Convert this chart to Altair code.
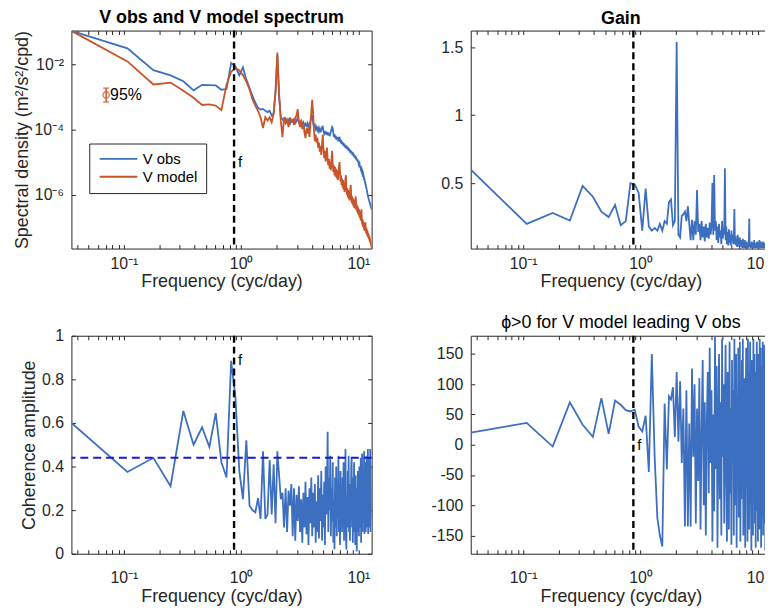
import altair as alt
import pandas as pd

# ---------------- data ----------------
N = 182
freq = [(k + 0.5) / 14 for k in range(N)]  # frequency grid, cyc/day

# log10 of spectral density, V obs
obs_log = [
    -0.96, -1.50, -2.17, -2.33, -2.51, -2.79, -2.62, -2.63, -2.64, -2.77, -2.75,
    -1.95, -2.05, -2.33, -2.08, -2.46, -2.71, -2.97, -3.17, -3.33, -3.38,
    -3.36, -3.42, -3.46, -3.42, -3.56, -3.50, -2.85, -1.70, -3.00, -3.62,
    -3.68, -3.75, -3.66, -3.78, -3.70, -3.82, -3.72, -3.76, -3.68, -3.80,
    -3.74, -3.62, -3.78, -3.84, -3.74, -3.86, -3.78, -3.90, -3.82, -3.88,
    -3.80, -3.92, -3.84, -3.74, -3.62, -3.55, -3.78, -3.92, -3.86, -3.98,
    -3.92, -4.02, -3.95, -4.05, -3.97, -4.08, -4.00, -3.94, -3.88, -4.06,
    -4.12, -4.04, -4.14, -4.06, -4.16, -4.08, -4.18, -4.10, -4.20, -4.12,
    -4.06, -3.98, -3.92, -3.96, -4.10, -4.22, -4.14, -4.26, -4.18, -4.30,
    -4.22, -4.32, -4.24, -4.36, -4.28, -4.22, -4.30, -4.40, -4.32, -4.44,
    -4.36, -4.46, -4.40, -4.50, -4.42, -4.52, -4.46, -4.56, -4.48, -4.58,
    -4.50, -4.60, -4.54, -4.64, -4.56, -4.66, -4.60, -4.70, -4.62, -4.72,
    -4.66, -4.74, -4.68, -4.78, -4.70, -4.80, -4.74, -4.84, -4.78, -4.86,
    -4.80, -4.90, -4.84, -4.94, -4.88, -4.96, -4.92, -5.00, -4.96, -5.04,
    -5.02, -5.10, -5.08, -5.16, -5.12, -5.20, -5.18, -5.26, -5.24, -5.32,
    -5.30, -5.38, -5.36, -5.44, -5.44, -5.52, -5.52, -5.60, -5.60, -5.68,
    -5.68, -5.76, -5.78, -5.84, -5.88, -5.94, -5.98, -6.04, -6.06, -6.12,
    -6.14, -6.18, -6.20, -6.24, -6.26, -6.30, -6.32, -6.36, -6.38, -6.42, -6.46,
]

# log10 of spectral density, V model
model_log = [
    -0.96, -1.90, -2.61, -2.55, -2.80, -3.02, -3.24, -3.22, -3.26, -3.40, -2.62,
    -2.22, -2.10, -2.18, -2.32, -2.52, -2.76, -3.07, -3.27, -3.42, -3.62,
    -3.95, -3.62, -3.72, -3.62, -3.77, -3.50, -2.80, -1.63, -2.90, -3.73,
    -4.23, -3.62, -3.80, -3.70, -3.92, -3.62, -3.75, -3.70, -3.85, -3.65,
    -3.55, -3.37, -3.75, -3.92, -3.70, -3.98, -3.82, -4.08, -4.26, -3.96,
    -4.12, -3.92, -4.22, -3.85, -3.45, -3.08, -3.50, -4.05, -4.35, -4.15,
    -4.40, -4.25, -4.55, -4.40, -4.68, -4.50, -4.78, -4.45, -4.15, -4.60,
    -4.88, -4.65, -4.98, -4.75, -4.55, -4.95, -5.10, -4.90, -5.20, -4.98,
    -5.25, -4.95, -4.65, -5.05, -5.30, -5.10, -5.40, -5.15, -5.45, -5.20,
    -5.50, -5.25, -5.55, -5.35, -5.15, -5.00, -5.25, -5.60, -5.40, -5.70,
    -5.50, -5.78, -5.55, -5.85, -5.62, -5.92, -5.70, -5.50, -5.40, -5.80,
    -6.00, -5.80, -6.08, -5.85, -6.12, -5.92, -6.18, -6.00, -5.80, -5.70,
    -6.05, -6.25, -6.05, -6.30, -6.10, -6.35, -6.15, -6.40, -6.20, -6.42,
    -6.25, -6.05, -6.20, -6.48, -6.30, -6.52, -6.35, -6.58, -6.40, -6.62,
    -6.45, -6.68, -6.50, -6.72, -6.55, -6.80, -6.62, -6.45, -6.70, -6.92,
    -6.75, -6.98, -6.80, -7.02, -6.85, -7.08, -6.90, -7.12, -6.98, -6.85,
    -7.05, -7.18, -7.02, -7.22, -7.08, -7.26, -7.12, -7.30, -7.18, -7.34,
    -7.24, -7.38, -7.28, -7.44, -7.34, -7.48, -7.42, -7.54, -7.50, -7.60, -7.65,
]

gain = [
    0.60, 0.20, 0.28, 0.225, 0.48, 0.40, 0.29, 0.25, 0.34, 0.19, 0.22,
    0.50, 0.49, 0.43, 0.15, 0.46, 0.18, 0.15, 0.17, 0.15, 0.20,
    0.15, 0.22, 0.20, 0.36, 0.38, 0.19, 0.22, 1.54, 0.12, 0.10,
    0.26, 0.27, 0.29, 0.22, 0.33, 0.20, 0.08, 0.23, 0.08, 0.22,
    0.12, 0.45, 0.14, 0.20, 0.08, 0.22, 0.10, 0.18, 0.07, 0.20,
    0.10, 0.17, 0.09, 0.21, 0.12, 0.18, 0.50, 0.12, 0.56, 0.15,
    0.22, 0.08, 0.18, 0.06, 0.20, 0.10, 0.15, 0.05, 0.22, 0.09,
    0.17, 0.12, 0.61, 0.08, 0.18, 0.05, 0.14, 0.04, 0.16, 0.06,
    0.12, 0.04, 0.15, 0.07, 0.12, 0.05, 0.10, 0.31, 0.05, 0.11,
    0.04, 0.09, 0.03, 0.12, 0.05, 0.08, 0.03, 0.10, 0.04, 0.08,
    0.03, 0.07, 0.02, 0.09, 0.04, 0.06, 0.02, 0.08, 0.03, 0.06,
    0.02, 0.07, 0.03, 0.05, 0.02, 0.06, 0.04, 0.24, 0.03, 0.06,
    0.02, 0.05, 0.03, 0.07, 0.02, 0.05, 0.03, 0.06, 0.02, 0.08,
    0.03, 0.05, 0.02, 0.06, 0.03, 0.04, 0.02, 0.07, 0.03, 0.05,
    0.02, 0.06, 0.03, 0.08, 0.02, 0.05, 0.03, 0.07, 0.02, 0.04,
    0.06, 0.02, 0.05, 0.03, 0.07, 0.02, 0.04, 0.06, 0.02, 0.05,
    0.03, 0.06, 0.02, 0.04, 0.07, 0.03, 0.05, 0.02, 0.06, 0.03,
    0.05, 0.02, 0.07, 0.03, 0.05, 0.04, 0.08, 0.03, 0.06, 0.05, 0.07,
]

coherence = [
    0.60, 0.375, 0.44, 0.31, 0.655, 0.50, 0.58, 0.49, 0.645, 0.42, 0.35,
    0.885, 0.72, 0.38, 0.25, 0.52, 0.22, 0.20, 0.19, 0.255, 0.16,
    0.47, 0.16, 0.18, 0.43, 0.18, 0.41, 0.14, 0.47, 0.36, 0.25,
    0.28, 0.12, 0.30, 0.10, 0.29, 0.22, 0.32, 0.08, 0.30, 0.06,
    0.27, 0.15, 0.31, 0.10, 0.25, 0.05, 0.28, 0.12, 0.33, 0.09,
    0.26, 0.04, 0.30, 0.14, 0.35, 0.08, 0.28, 0.12, 0.32, 0.05,
    0.24, 0.10, 0.36, 0.07, 0.30, 0.15, 0.38, 0.06, 0.27, 0.12,
    0.33, 0.04, 0.40, 0.18, 0.30, 0.56, 0.10, 0.35, 0.20, 0.45,
    0.08, 0.30, 0.15, 0.42, 0.05, 0.25, 0.02, 0.35, 0.12, 0.40,
    0.08, 0.32, 0.16, 0.45, 0.10, 0.28, 0.04, 0.38, 0.14, 0.30,
    0.10, 0.35, 0.18, 0.42, 0.06, 0.30, 0.15, 0.48, 0.08, 0.02,
    0.25, 0.12, 0.38, 0.20, 0.45, 0.10, 0.32, 0.06, 0.28, 0.16,
    0.40, 0.44, 0.12, 0.30, 0.05, 0.35, 0.18, 0.42, 0.10, 0.26,
    0.04, 0.36, 0.15, 0.30, 0.01, 0.22, 0.10, 0.38, 0.16, 0.33,
    0.08, 0.40, 0.20, 0.35, 0.12, 0.44, 0.05, 0.30, 0.18, 0.46,
    0.10, 0.28, 0.14, 0.38, 0.20, 0.47, 0.09, 0.32, 0.15, 0.42,
    0.10, 0.30, 0.22, 0.45, 0.12, 0.35, 0.18, 0.48, 0.09, 0.38,
    0.20, 0.44, 0.12, 0.34, 0.22, 0.48, 0.10, 0.40, 0.16, 0.30, 0.22,
]

phase = [
    20, 36, -3, 70, 33, 13, 77, 18, 73, 66, 57,
    55, 58, 30, 22, 48, -45, 150, -20, -121, -150,
    -168, 68, -41, 80, 75, 95, 13, 120, 5, 105,
    -30, 60, -135, 90, -135, 35, -135, 126, -20, 100,
    -130, 60, -60, 110, -140, 20, 140, -100, 70, -150,
    40, 120, -80, 160, -30, 90, -160, 50, -110, 180,
    -40, 130, -170, 20, 150, -90, 70, -150, 175, -20,
    100, -130, 40, 165, -60, -160, 120, 10, -140, 170,
    -80, 60, -165, 140, -20, 90, -150, 175, -100, 30,
    150, -170, 80, -50, 160, -120, 20, 170, -160, 50,
    -90, 140, -30, 175, -150, 60, -120, 110, -170, 20,
    160, -70, 90, -160, 175, -40, 120, -140, 30, 170,
    -100, 60, -175, 140, -20, 100, -150, 175, -60, 40,
    150, -130, 80, -170, 120, -30, 170, -110, 60, -160,
    150, -50, 110, -140, 175, -80, 40, 160, -170, 70,
    -120, 130, -20, 170, -150, 90, -60, 165, -130, 20,
    150, -175, 100, -40, 170, -110, 60, -160, 140, -10,
    175, -140, 80, -80, 160, -170, 120, -30, 175, -100, 60,
]

F_INERTIAL = 0.87          # inertial frequency line (cyc/day)
COH_SIG = 0.44             # coherence significance level
ci_freq = [0.0706]         # 95% error bar position
ci_mid = [1.17e-3]
ci_lo = [7.1e-4]
ci_hi = [1.9e-3]

x_ticks = [0.04, 0.05, 0.06, 0.07, 0.08, 0.09,
           0.1, 0.2, 0.3, 0.4, 0.5, 0.6, 0.7, 0.8, 0.9,
           1, 2, 3, 4, 5, 6, 7, 8, 9, 10]
spec_ticks = [1e-6, 1e-4, 1e-2]
gain_ticks = [0.5, 1, 1.5]
coh_ticks = [0, 0.2, 0.4, 0.6, 0.8, 1]
phase_ticks = [-150, -100, -50, 0, 50, 100, 150]

# ---------------- styling ----------------
FONT = "Liberation Sans"
BLUE = "#3d6fc0"
ORANGE = "#c8552a"
AX = "#262626"
W, H = 303, 220
LW = 1.8

n = min(len(obs_log), len(model_log), len(gain), len(coherence), len(phase))
fr = freq[:n]

xs = alt.Scale(type="log", domain=[0.0357, 12.96], nice=False)
X_EXPR = ("datum.value == 0.1 ? '10⁻¹' : datum.value == 1 ? '10⁰' : "
          "datum.value == 10 ? '10¹' : ''")


def x_bottom(lp, tp):
    return alt.Axis(orient="bottom", values=x_ticks, labelExpr=X_EXPR,
                    title="Frequency (cyc/day)", offset=-4, tickSize=4,
                    labelPadding=lp, titlePadding=tp, labelOverlap=False,
                    domain=False, grid=False, minExtent=0)


def x_top():
    return alt.Axis(orient="top", values=x_ticks, labels=False, title=None,
                    offset=-4, tickSize=4, domain=False, grid=False,
                    minExtent=0, maxExtent=0)


def y_left(values, expr, title=None):
    return alt.Axis(orient="left", values=values, labelExpr=expr, title=title,
                    offset=-4, tickSize=4, labelPadding=8, titlePadding=3,
                    labelOverlap=False, domain=False, grid=False, minExtent=0)


def y_right(values):
    return alt.Axis(orient="right", values=values, labels=False, title=None,
                    offset=-4, tickSize=4, domain=False, grid=False,
                    minExtent=0, maxExtent=0)


def title(text, bold=True):
    return alt.TitleParams(text=text, font=FONT, fontSize=18,
                           fontWeight="bold" if bold else "normal",
                           color="black", anchor="middle", offset=1)


fline_df = pd.DataFrame({"f": [F_INERTIAL]})


def f_rule():
    return alt.Chart(fline_df).mark_rule(
        color="black", strokeDash=[7, 4], strokeWidth=2.4
    ).encode(x=alt.X("f:Q", scale=xs, axis=None))


def f_text(ys, yval):
    d = pd.DataFrame({"f": [F_INERTIAL], "y": [yval], "t": ["f"]})
    return alt.Chart(d).mark_text(
        align="left", baseline="middle", dx=4, font=FONT, fontSize=15, color="black"
    ).encode(x=alt.X("f:Q", scale=xs, axis=None),
             y=alt.Y("y:Q", scale=ys, axis=None), text="t:N")


# ---------------- panel 1: spectra ----------------
spec_df = pd.DataFrame({
    "freq": fr + fr,
    "value": [10 ** v for v in obs_log[:n]] + [10 ** v for v in model_log[:n]],
    "series": ["V obs"] * n + ["V model"] * n,
})
ys_spec = alt.Scale(type="log", domain=[2.2e-8, 0.112], nice=False)
SPEC_EXPR = ("datum.value < 1e-5 ? '10⁻⁶' : datum.value < 1e-3 ? '10⁻⁴' : '10⁻²'")
legend = alt.Legend(orient="none", legendX=18, legendY=114, title=None,
                    direction="vertical", symbolType="M-1,0H6.6", symbolSize=100,
                    symbolStrokeWidth=2, labelFont=FONT, labelFontSize=15,
                    labelColor="black", labelOffset=31, rowPadding=2, padding=8,
                    strokeColor=AX, fillColor="white", cornerRadius=0)
color = alt.Color("series:N",
                  scale=alt.Scale(domain=["V obs", "V model"], range=[BLUE, ORANGE]),
                  legend=legend)

spec_base = alt.Chart(spec_df)
obs_line = spec_base.transform_filter(alt.datum.series == "V obs").mark_line(
    strokeWidth=LW, clip=True).encode(
    x=alt.X("freq:Q", scale=xs, axis=x_bottom(7, 1)),
    y=alt.Y("value:Q", scale=ys_spec,
            axis=y_left(spec_ticks, SPEC_EXPR, "Spectral density (m²/s²/cpd)")),
    color=color)
model_line = spec_base.transform_filter(alt.datum.series == "V model").mark_line(
    strokeWidth=LW, clip=True).encode(
    x=alt.X("freq:Q", scale=xs, axis=None),
    y=alt.Y("value:Q", scale=ys_spec, axis=None),
    color=color)
spec_frame = spec_base.mark_point(opacity=0).encode(
    x=alt.X("freq:Q", scale=xs, axis=x_top()),
    y=alt.Y("value:Q", scale=ys_spec, axis=y_right(spec_ticks)))

ci_df = pd.DataFrame({"f": ci_freq, "mid": ci_mid, "lo": ci_lo, "hi": ci_hi,
                      "t": ["95%"]})
ci_base = alt.Chart(ci_df)
ci_bar = ci_base.mark_rule(color=ORANGE, strokeWidth=1.5).encode(
    x=alt.X("f:Q", scale=xs, axis=None),
    y=alt.Y("lo:Q", scale=ys_spec, axis=None), y2="hi:Q")
ci_cap_lo = ci_base.mark_tick(color=ORANGE, orient="horizontal", size=6,
                              thickness=1.5).encode(
    x=alt.X("f:Q", scale=xs, axis=None), y=alt.Y("lo:Q", scale=ys_spec, axis=None))
ci_cap_hi = ci_base.mark_tick(color=ORANGE, orient="horizontal", size=6,
                              thickness=1.5).encode(
    x=alt.X("f:Q", scale=xs, axis=None), y=alt.Y("hi:Q", scale=ys_spec, axis=None))
ci_pt = ci_base.mark_point(color=ORANGE, shape="circle", size=40, filled=False,
                           strokeWidth=1.5).encode(
    x=alt.X("f:Q", scale=xs, axis=None), y=alt.Y("mid:Q", scale=ys_spec, axis=None))
ci_txt = ci_base.mark_text(align="left", baseline="middle", dx=4, font=FONT,
                           fontSize=16, color="black").encode(
    x=alt.X("f:Q", scale=xs, axis=None), y=alt.Y("mid:Q", scale=ys_spec, axis=None),
    text="t:N")

p_spec = alt.layer(
    obs_line, model_line, f_rule(), f_text(ys_spec, 1e-5),
    ci_bar, ci_cap_lo, ci_cap_hi, ci_pt, ci_txt, spec_frame
).resolve_axis(x="independent", y="independent").properties(
    width=W, height=H, title=title("V obs and V model spectrum"))

# ---------------- panel 2: gain ----------------
gain_df = pd.DataFrame({"freq": fr, "g": gain[:n]})
ys_gain = alt.Scale(domain=[0.018, 1.624], nice=False, zero=False)
NUM_EXPR = "'' + datum.value"
gain_line = alt.Chart(gain_df).mark_line(strokeWidth=LW, color=BLUE, clip=True).encode(
    x=alt.X("freq:Q", scale=xs, axis=x_bottom(7, 1)),
    y=alt.Y("g:Q", scale=ys_gain, axis=y_left(gain_ticks, NUM_EXPR)))
gain_frame = alt.Chart(gain_df).mark_point(opacity=0).encode(
    x=alt.X("freq:Q", scale=xs, axis=x_top()),
    y=alt.Y("g:Q", scale=ys_gain, axis=y_right(gain_ticks)))
p_gain = alt.layer(gain_line, f_rule(), gain_frame).resolve_axis(
    x="independent", y="independent").properties(width=W, height=H, title=title("Gain"))

# ---------------- panel 3: coherence ----------------
coh_df = pd.DataFrame({"freq": fr, "c": coherence[:n]})
ys_coh = alt.Scale(domain=[0, 1], nice=False)
coh_line = alt.Chart(coh_df).mark_line(strokeWidth=LW, color=BLUE, clip=True).encode(
    x=alt.X("freq:Q", scale=xs, axis=x_bottom(16, 2)),
    y=alt.Y("c:Q", scale=ys_coh,
            axis=y_left(coh_ticks, NUM_EXPR, "Coherence amplitude")))
sig_df = pd.DataFrame({"s": [COH_SIG]})
coh_sig = alt.Chart(sig_df).mark_rule(color="#1a1ad0", strokeDash=[8, 5],
                                      strokeWidth=2).encode(
    y=alt.Y("s:Q", scale=ys_coh, axis=None))
coh_frame = alt.Chart(coh_df).mark_point(opacity=0).encode(
    x=alt.X("freq:Q", scale=xs, axis=x_top()),
    y=alt.Y("c:Q", scale=ys_coh, axis=y_right(coh_ticks)))
p_coh = alt.layer(coh_line, coh_sig, f_rule(), f_text(ys_coh, 0.887),
                  coh_frame).resolve_axis(x="independent", y="independent").properties(
    width=W, height=H)

# ---------------- panel 4: phase ----------------
ph_df = pd.DataFrame({"freq": fr, "p": phase[:n]})
ys_ph = alt.Scale(domain=[-180, 180], nice=False)
ph_line = alt.Chart(ph_df).mark_line(strokeWidth=LW, color=BLUE, clip=True).encode(
    x=alt.X("freq:Q", scale=xs, axis=x_bottom(16, 2)),
    y=alt.Y("p:Q", scale=ys_ph, axis=y_left(phase_ticks, NUM_EXPR)))
ph_frame = alt.Chart(ph_df).mark_point(opacity=0).encode(
    x=alt.X("freq:Q", scale=xs, axis=x_top()),
    y=alt.Y("p:Q", scale=ys_ph, axis=y_right(phase_ticks)))
p_ph = alt.layer(ph_line, f_rule(), f_text(ys_ph, 0), ph_frame).resolve_axis(
    x="independent", y="independent").properties(
    width=W, height=H, title=title("ϕ>0 for V model leading V obs", bold=False))

chart = alt.concat(
    p_spec, p_gain, p_coh, p_ph, columns=2,
    spacing={"row": 88, "column": 100}, bounds="flush"
).properties(
    padding={"left": 4, "top": -2, "right": -10, "bottom": 0},
    background="white",
).configure_view(
    stroke=AX, strokeWidth=1
).configure_axis(
    labelFont=FONT, titleFont=FONT, labelFontSize=16, titleFontSize=18,
    labelColor=AX, titleColor=AX, tickColor=AX, tickWidth=1,
    titleFontWeight="normal"
)

chart.save("out.html", embed_options={"renderer": "svg", "actions": False})
